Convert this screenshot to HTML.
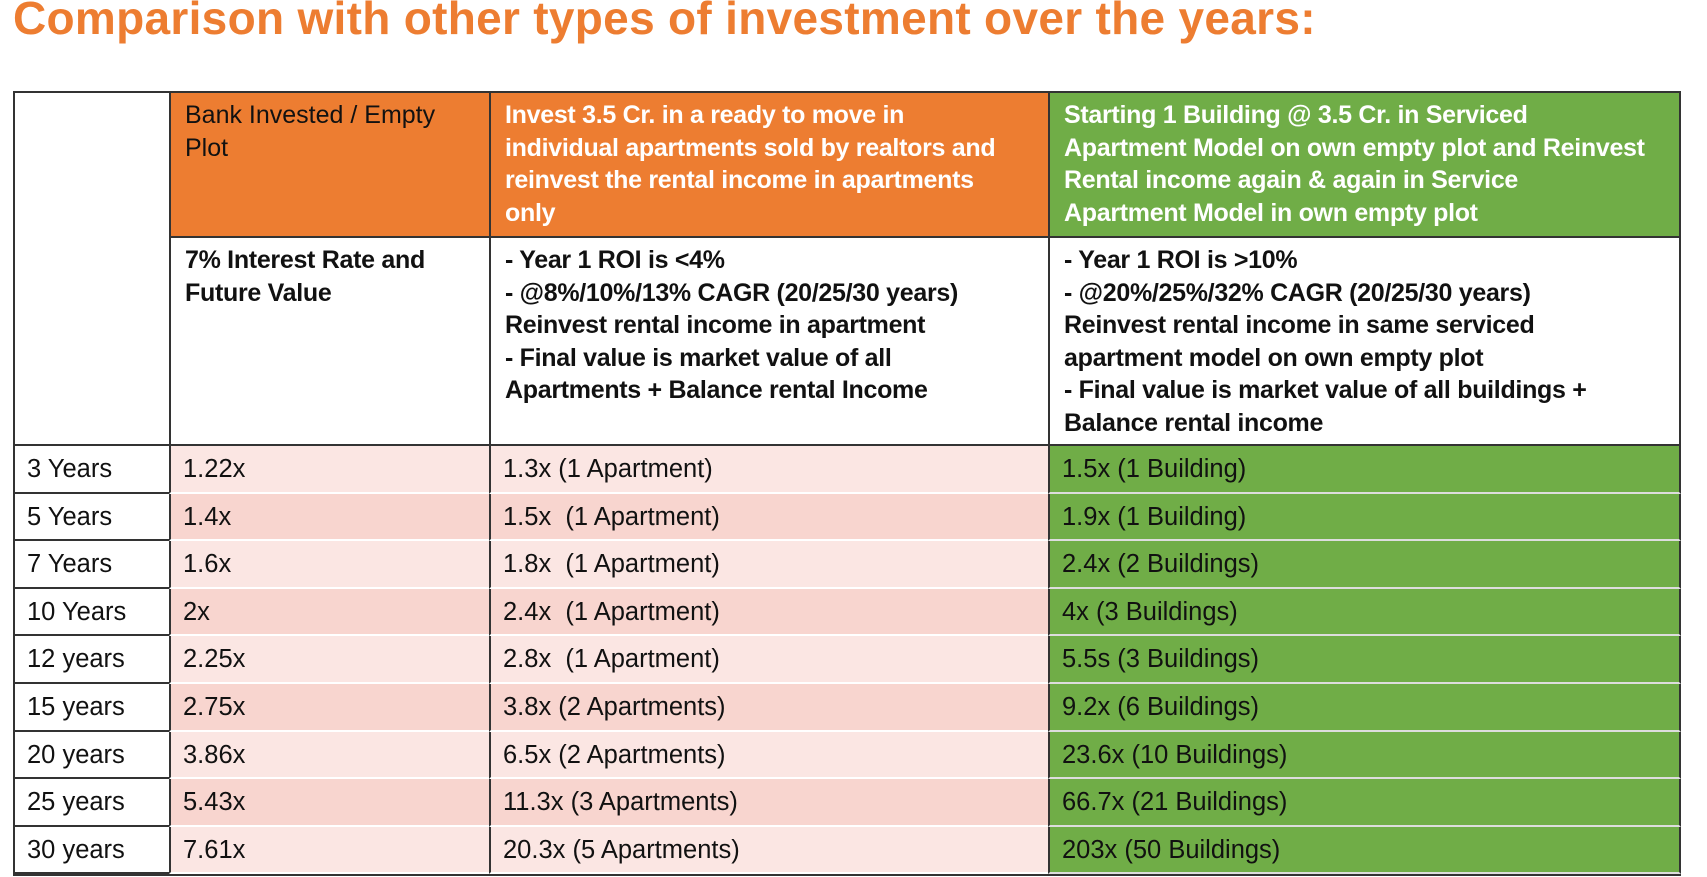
<!DOCTYPE html>
<html><head><meta charset="utf-8"><style>
body{margin:0;width:1707px;height:877px;background:#fff;position:relative;overflow:hidden;font-family:"Liberation Sans",sans-serif;}
.t{position:absolute;left:13px;top:-9px;font-size:46px;font-weight:bold;color:#ED7D31;white-space:nowrap;letter-spacing:0.3px}
.c{position:absolute;box-sizing:border-box;padding:6px 14px;font-size:23px;line-height:32.5px;color:#111;white-space:nowrap}
.h{font-weight:bold;font-size:25px;letter-spacing:-0.3px}
.d{font-size:25.5px;line-height:47px;padding:0 12px}
</style></head><body>
<div class="t">Comparison with other types of investment over the years:</div>
<div style="position:absolute;left:13px;top:91px;width:1668px;height:785px;border:2px solid #333;box-sizing:border-box"></div>
<div class="c" style="left:169px;top:91px;width:320px;height:147px;background:#ED7D31;border-top:2px solid #333;border-left:2px solid #333;border-bottom:2px solid #333;font-size:25px">Bank Invested / Empty<br>Plot</div>
<div class="c h" style="left:489px;top:91px;width:559px;height:147px;background:#ED7D31;color:#fff;border:2px solid #333;border-right:none">Invest 3.5 Cr. in a ready to move in<br>individual apartments sold by realtors and<br>reinvest the rental income in apartments<br>only</div>
<div class="c h" style="left:1048px;top:91px;width:633px;height:147px;background:#70AD47;color:#fff;border:2px solid #333">Starting 1 Building @ 3.5 Cr. in Serviced<br>Apartment Model on own empty plot and Reinvest<br>Rental income again &amp; again in Service<br>Apartment Model in own empty plot</div>
<div class="c h" style="left:169px;top:238px;width:320px;height:208px;border-left:2px solid #333;border-bottom:2px solid #333">7% Interest Rate and<br>Future Value</div>
<div class="c h" style="left:489px;top:238px;width:559px;height:208px;border-left:2px solid #333;border-bottom:2px solid #333">- Year 1 ROI is &lt;4%<br>- @8%/10%/13% CAGR (20/25/30 years)<br>Reinvest rental income in apartment<br>- Final value is market value of all<br>Apartments + Balance rental Income</div>
<div class="c h" style="left:1048px;top:238px;width:633px;height:208px;border-left:2px solid #333;border-right:2px solid #333;border-bottom:2px solid #333">- Year 1 ROI is &gt;10%<br>- @20%/25%/32% CAGR (20/25/30 years)<br>Reinvest rental income in same serviced<br>apartment model on own empty plot<br>- Final value is market value of all buildings +<br>Balance rental income</div>
<div style="position:absolute;left:13px;top:444px;width:156px;height:2px;background:#333"></div>
<div id="rows"></div>
<script>
var d=[["3 Years","1.22x","1.3x (1 Apartment)","1.5x (1 Building)"],["5 Years","1.4x","1.5x&nbsp; (1 Apartment)","1.9x (1 Building)"],["7 Years","1.6x","1.8x&nbsp; (1 Apartment)","2.4x (2 Buildings)"],["10 Years","2x","2.4x&nbsp; (1 Apartment)","4x (3 Buildings)"],["12 years","2.25x","2.8x&nbsp; (1 Apartment)","5.5s (3 Buildings)"],["15 years","2.75x","3.8x (2 Apartments)","9.2x (6 Buildings)"],["20 years","3.86x","6.5x (2 Apartments)","23.6x (10 Buildings)"],["25 years","5.43x","11.3x (3 Apartments)","66.7x (21 Buildings)"],["30 years","7.61x","20.3x (5 Apartments)","203x (50 Buildings)"]];
var h="",y0=446,rh=47.6;
for(var i=0;i<9;i++){var y=y0+i*rh;var pk=i%2?"#F8D5CF":"#FBE6E3";
h+='<div class="c d" style="left:13px;top:'+y+'px;width:156px;height:'+rh+'px;border-bottom:2px solid #333;border-left:2px solid #333">'+d[i][0]+'</div>';
h+='<div class="c d" style="left:169px;top:'+y+'px;width:320px;height:'+rh+'px;background:'+pk+';border-left:2px solid #333;border-bottom:2px solid #fff">'+d[i][1]+'</div>';
h+='<div class="c d" style="left:489px;top:'+y+'px;width:559px;height:'+rh+'px;background:'+pk+';border-left:2px solid #333;border-bottom:2px solid #fff">'+d[i][2]+'</div>';
h+='<div class="c d" style="left:1048px;top:'+y+'px;width:633px;height:'+rh+'px;background:#70AD47;border-left:2px solid #333;border-right:2px solid #333;border-bottom:2px solid #ddd">'+d[i][3]+'</div>';}
h+='<div style="position:absolute;left:13px;top:874px;width:1668px;height:2px;background:#333"></div>';
document.getElementById("rows").innerHTML=h;
</script>
</body></html>
